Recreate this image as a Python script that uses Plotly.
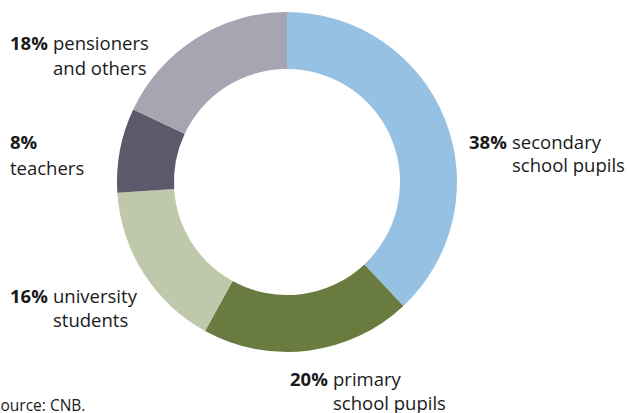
import plotly.graph_objects as go

# Shares by holder group (per cent)
groups = ["secondary school pupils", "primary school pupils", "university students",
          "teachers", "pensioners and others"]
shares = [38, 20, 16, 8, 18]
colors = ["#97c1e3", "#6a7b3f", "#bfc8aa", "#5b5a6a", "#a7a5b1"]

# label text: first line / second line
label_line1 = ["secondary", "primary", "university", "", "pensioners"]
label_line2 = ["school pupils", "school pupils", "students", "teachers", "and others"]

W, H = 628, 413

# label anchor positions in pixels: (x of text block, y of first line centre)
label_pos = [(512, 141), (333, 378), (53, 295), (10, 141), (53, 43)]

fig = go.Figure(go.Pie(
    labels=groups,
    values=shares,
    hole=0.665,
    sort=False,
    direction="clockwise",
    rotation=0,
    marker=dict(colors=colors, line=dict(width=0)),
    textinfo="none",
    hoverinfo="label+percent",
    showlegend=False,
    domain=dict(x=[116.5 / W, 457.5 / W], y=[61 / H, 401 / H]),
))

FONT = "Open Sans"
FS = 18.5
LH = 24
TXT = "#1a1a1a"
PAD = 2  # inner padding plotly puts around annotation text

def px(x):
    return x / W

def py(y):
    return 1 - y / H

def note(x, y, text, anchor, size=FS):
    shift = -PAD if anchor == "left" else PAD
    return dict(x=px(x), y=py(y), text=text, xanchor=anchor, xshift=shift,
                yanchor="middle", showarrow=False,
                font=dict(family=FONT, size=size, color=TXT))

annotations = []
for share, l1, l2, (x, y) in zip(shares, label_line1, label_line2, label_pos):
    pct = f"<b>{share}%</b>"
    if l1:
        annotations.append(note(x - 5, y, pct, "right"))
        annotations.append(note(x, y, l1, "left"))
        annotations.append(note(x, y + LH, l2, "left"))
    else:
        annotations.append(note(x, y, pct, "left"))
        annotations.append(note(x, y + 26, l2, "left"))

annotations.append(note(-8, 405, "Source: CNB.", "left", size=15.5))

fig.update_layout(
    width=W, height=H,
    margin=dict(l=0, r=0, t=0, b=0),
    paper_bgcolor="white",
    plot_bgcolor="white",
    annotations=annotations,
)

fig.write_html("out.html")
